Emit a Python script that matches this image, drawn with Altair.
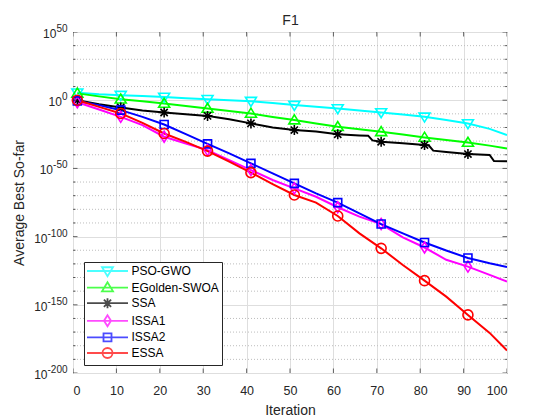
import altair as alt
import pandas as pd

# ---------------- data (exponents of the average best-so-far, log10) ----------------
SERIES = ["PSO-GWO", "EGolden-SWOA", "SSA", "ISSA1", "ISSA2", "ESSA"]
COLORS = ["#00FFFF", "#00FF00", "#000000", "#FF00FF", "#0000FF", "#FF0000"]

ITER = [1, 6, 11, 16, 21, 26, 31, 36, 41, 46, 51, 56, 61, 66, 71, 76, 81, 86, 91, 96, 100]
PSO_GWO = [5.5, 4.3, 3.7, 3.0, 2.4, 1.5, 0.7, 0.0, -0.7, -2.0, -3.6, -4.8, -6.1, -7.5, -9.0,
           -10.5, -12.2, -14.5, -17.1, -21.0, -25.6]
EGOLDEN_SWOA = [5.0, 2.8, 0.7, -0.8, -2.4, -4.2, -6.1, -8.0, -9.7, -12.3, -14.6, -17.0, -19.5,
                -21.3, -23.2, -25.2, -27.3, -29.2, -31.0, -33.3, -35.4]
ISSA1 = [-1.5, -6.8, -12.2, -18.3, -26.8, -31.7, -36.6, -43.9, -51.2, -58.5, -64.6, -70.8, -78.5,
         -85.4, -90.8, -100.5, -108.0, -117.0, -122.0, -128.1, -133.0]
ISSA2 = [-0.5, -3.6, -7.3, -12.2, -17.8, -24.9, -32.0, -39.0, -46.3, -53.6, -61.0, -68.3, -75.1,
         -83.0, -90.8, -97.6, -104.3, -110.2, -115.7, -119.6, -122.3]
ESSA = [0.0, -4.9, -9.7, -16.6, -24.4, -30.5, -37.3, -45.1, -53.1, -61.5, -69.5, -75.1, -84.9,
        -97.6, -108.6, -120.8, -132.3, -144.0, -157.4, -170.6, -183.5]

ITER_SSA = [1, 6, 11, 16, 21, 26, 31, 33, 36, 41, 46, 51, 56, 61, 66, 68, 69, 71, 76, 81, 82, 83,
            86, 91, 96, 97, 100]
SSA = [0.0, -3.0, -5.3, -7.5, -9.0, -10.3, -11.5, -12.5, -14.0, -17.0, -20.0, -21.9, -23.0, -25.0,
       -25.8, -26.0, -29.5, -30.5, -31.5, -32.9, -33.2, -37.0, -38.0, -39.5, -40.2, -44.6, -44.8]

MARKER_ITER = [1, 11, 21, 31, 41, 51, 61, 71, 81, 91]

X_TICKS = [0, 10, 20, 30, 40, 50, 60, 70, 80, 90, 100]
Y_TICKS = [-200, -150, -100, -50, 0, 50]
Y_TICK_BASE = "10"
Y_TICK_EXPONENTS = ["-200", "-150", "-100", "-50", "0", "50"]
Y_MINOR = [v for v in range(-190, 50, 10) if v % 50 != 0]

# ---------------- styles ----------------
FONT = "Liberation Sans"
TXT = "#262626"
EXP_SIZE = 10
MARKERS = [
    "M-1.1,-0.75L1.1,-0.75L0,1.05Z",                                   # triangle down
    "M-1.1,0.75L1.1,0.75L0,-1.05Z",                                    # triangle up
    "M-1,0H1M0,-1V1M-0.72,-0.72L0.72,0.72M-0.72,0.72L0.72,-0.72",      # asterisk
    "M0,-1.1L0.7,0L0,1.1L-0.7,0Z",                                     # diamond
    "M-0.8,-0.8H0.8V0.8H-0.8Z",                                        # square
    "M-1,0A1,1,0,1,1,1,0A1,1,0,1,1,-1,0Z",                             # circle
]
LEGEND_SYMBOLS = ["M-4.1,0H4.1" + m for m in MARKERS]

# ---------------- tables ----------------
rows = []
series_data = [(SERIES[0], ITER, PSO_GWO), (SERIES[1], ITER, EGOLDEN_SWOA), (SERIES[2], ITER_SSA, SSA),
               (SERIES[3], ITER, ISSA1), (SERIES[4], ITER, ISSA2), (SERIES[5], ITER, ESSA)]
for k, (name, its, vals) in enumerate(series_data):
    for it, v in zip(its, vals):
        rows.append({"series": name, "k": k, "iter": it, "exp": v})
df = pd.DataFrame(rows)
df_mark = df[df["iter"].isin(MARKER_ITER)]

ticks_rows = []
for side in (0, 100):
    for v in Y_TICKS:
        ticks_rows.append({"x": side, "exp": v, "kind": "major"})
    for v in Y_MINOR:
        ticks_rows.append({"x": side, "exp": v, "kind": "minor"})
df_yt = pd.DataFrame(ticks_rows)
df_xt = pd.DataFrame([{"iter": t, "y": side} for t in X_TICKS for side in (-200, 50)])
df_minor = pd.DataFrame({"exp": Y_MINOR})


def exp_width(s):
    # approximate rendered width of the superscript text (Arial metrics)
    return sum(0.333 if c == "-" else 0.556 for c in s) * EXP_SIZE


exp_expr = " : ".join(f"datum.value == {v} ? '{s}'" for v, s in zip(Y_TICKS, Y_TICK_EXPONENTS)) + " : ''"
base_pad = {"condition": [{"test": f"datum.value == {v}", "value": round(6 + exp_width(s), 1)}
                          for v, s in zip(Y_TICKS, Y_TICK_EXPONENTS)], "value": 12}

xscale = alt.Scale(domain=[0, 100], nice=False, zero=False)
yscale = alt.Scale(domain=[-200, 50], nice=False, zero=False)

x_axis = alt.Axis(orient="bottom", values=X_TICKS, grid=True, gridColor="#DEDEDE", gridWidth=1, ticks=False,
                  tickSize=0, domain=False, labelFont=FONT, labelFontSize=12.5, labelColor=TXT,
                  labelBaseline="alphabetic", labelPadding=21, title="Iteration", titleFont=FONT,
                  titleFontSize=14, titleFontWeight="normal", titleColor=TXT, titleX=217, titleY=41,
                  titleBaseline="alphabetic", titleAlign="center", offset=0)
top_axis = alt.Axis(orient="top", values=X_TICKS, grid=False, ticks=False, labels=False, domain=False,
                    title="F1", titleFont=FONT, titleFontSize=14, titleFontWeight="normal", titleColor=TXT,
                    titleX=217, titleY=-7.5, titleBaseline="alphabetic", titleAlign="center", offset=0)
y_axis = alt.Axis(orient="left", values=Y_TICKS, grid=True, gridColor="#DEDEDE", gridWidth=1, ticks=False,
                  tickSize=0, domain=False, labelFont=FONT, labelFontSize=12, labelColor=TXT,
                  labelExpr=f"'{Y_TICK_BASE}'", labelAlign="right", labelBaseline="middle", labelOffset=1.5,
                  labelPadding=base_pad, title="Average Best So-far", titleFont=FONT,
                  titleFontSize=14, titleFontWeight="normal", titleColor=TXT, titleAngle=-90, titleX=-50,
                  titleY=170.5, titleBaseline="alphabetic", titleAlign="center", offset=0)
y_exp_axis = alt.Axis(orient="left", values=Y_TICKS, grid=False, ticks=False, tickSize=0, domain=False,
                      labelFont=FONT, labelFontSize=EXP_SIZE, labelColor=TXT, labelExpr=exp_expr,
                      labelAlign="right", labelBaseline="middle", labelOffset=-3.5, labelPadding=6,
                      title=None, offset=0)

minor_grid = alt.Chart(df_minor).mark_rule(color="#BDBDBD", strokeWidth=1, strokeDash=[1, 2]).encode(
    y=alt.Y("exp:Q", scale=yscale, axis=None)
)

lines = alt.Chart(df).mark_line(strokeWidth=2, clip=True).encode(
    x=alt.X("iter:Q", scale=xscale, axis=x_axis),
    y=alt.Y("exp:Q", scale=yscale, axis=y_axis),
    color=alt.Color("series:N", scale=alt.Scale(domain=SERIES, range=COLORS), legend=None),
    order=alt.Order("iter:Q"),
)

points = alt.Chart(df_mark).mark_point(filled=False, size=100, strokeWidth=1.6, opacity=1).encode(
    x=alt.X("iter:Q", scale=xscale, axis=None),
    y=alt.Y("exp:Q", scale=yscale, axis=y_exp_axis),
    color=alt.Color("series:N", scale=alt.Scale(domain=SERIES, range=COLORS), legend=None),
    shape=alt.Shape("series:N", scale=alt.Scale(domain=SERIES, range=MARKERS), legend=None),
)

yticks = alt.Chart(df_yt).mark_tick(orient="horizontal", thickness=1, color=TXT, clip=True).encode(
    x=alt.X("x:Q", scale=xscale, axis=None),
    y=alt.Y("exp:Q", scale=yscale, axis=None),
    size=alt.Size("kind:N", scale=alt.Scale(domain=["major", "minor"], range=[9, 5]), legend=None),
)
xticks = alt.Chart(df_xt).mark_tick(orient="vertical", size=9, thickness=1, color=TXT, clip=True).encode(
    x=alt.X("iter:Q", scale=xscale, axis=top_axis),
    y=alt.Y("y:Q", scale=yscale, axis=None),
)

leg = alt.Legend(title=None, orient="none", legendX=11, legendY=230, padding=3, strokeColor=TXT,
                 fillColor="white", labelFont=FONT, labelFontSize=12, labelColor="#000000",
                 symbolSize=100, symbolStrokeWidth=1.8, symbolOffset=14.5, labelOffset=18,
                 rowPadding=-1.4, labelLimit=200)
legend_layer = alt.Chart(df_mark).mark_point(filled=False, size=100, strokeWidth=1.8).encode(
    x=alt.X("iter:Q", scale=xscale, axis=None),
    y=alt.Y("exp:Q", scale=yscale, axis=None),
    stroke=alt.Stroke("series:N", scale=alt.Scale(domain=SERIES, range=COLORS), legend=leg),
    shape=alt.Shape("series:N", scale=alt.Scale(domain=SERIES, range=LEGEND_SYMBOLS), legend=leg),
).transform_filter("false")

chart = alt.layer(minor_grid, lines, points, yticks, xticks, legend_layer).resolve_scale(
    shape="independent", stroke="independent", size="independent"
).resolve_axis(x="independent", y="independent").properties(
    width=434, height=341,
    autosize=alt.AutoSizeParams(type="none"),
    padding={"left": 65, "top": 24, "right": 45, "bottom": 48},
).configure_view(stroke=TXT, strokeWidth=1)

chart.save("out.html", embed_options={"renderer": "svg", "actions": False})
